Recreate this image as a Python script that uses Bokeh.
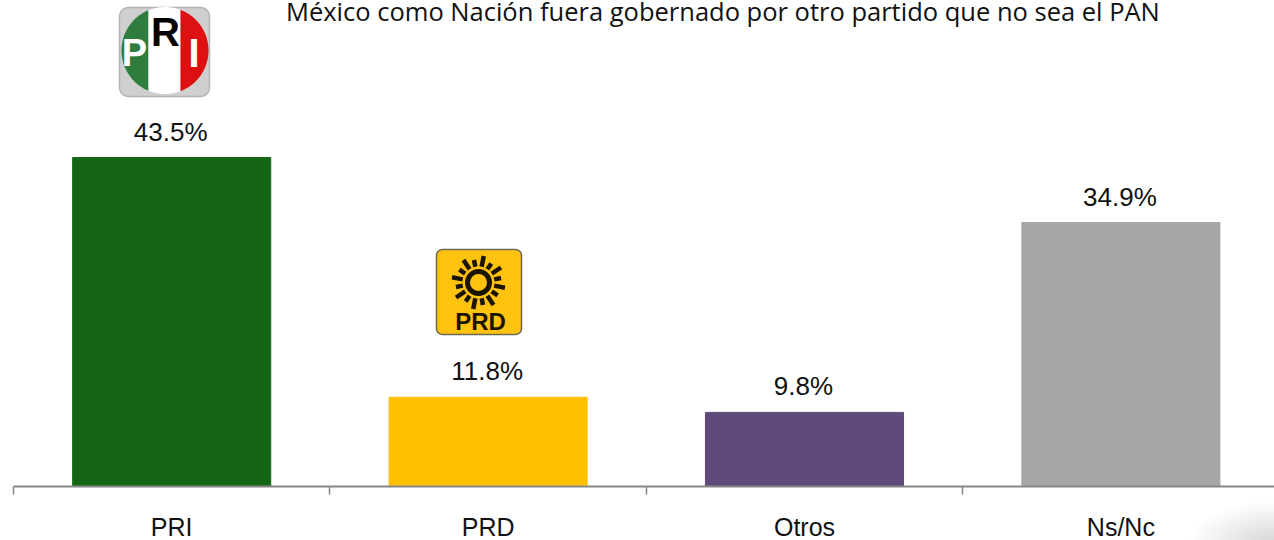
import numpy as np
from bokeh.embed import file_html
from bokeh.resources import INLINE
from bokeh.plotting import figure
from bokeh.models import ColumnDataSource, FixedTicker, Range1d
from bokeh.core.properties import value

categories = ["PRI", "PRD", "Otros", "Ns/Nc"]
values = [43.5, 11.8, 9.8, 34.9]
value_labels = ["43.5%", "11.8%", "9.8%", "34.9%"]
bar_colors = ["#146614", "#FFC000", "#604A7B", "#A6A6A6"]
title_text = "México como Nación fuera gobernado por otro partido que no sea el PAN"

W, H = 1274, 540
AXIS_Y = 486
X0 = 13
PX_PER_CAT = 316.4
PX_PER_VAL = 7.563

def X(px):
    return (np.asarray(px, dtype=float) - X0) / PX_PER_CAT

def Y(py):
    return (AXIS_Y - np.asarray(py, dtype=float)) / PX_PER_VAL

p = figure(width=W, height=H, frame_width=W, frame_height=AXIS_Y,
           output_backend="svg", toolbar_location=None,
           x_range=Range1d(float(X(0)), float(X(W))),
           y_range=Range1d(0, float(Y(0))),
           min_border_left=0, min_border_right=0, min_border_top=0,
           min_border_bottom=0, outline_line_color=None,
           background_fill_color="white", border_fill_color=None,
           styles={"position": "absolute", "left": "0px", "top": "0px",
                   "background": "radial-gradient(ellipse 85px 42px at 100% 100%, #d6d6d6, #ffffff)"})
p.grid.visible = False
p.yaxis.visible = False

centers = [i + 0.5 for i in range(len(categories))]
src = ColumnDataSource(dict(x=centers, top=values, color=bar_colors, label=value_labels))

p.vbar(x="x", top="top", width=0.626, bottom=0, color="color", source=src)
p.text(x="x", y="top", text="label", source=src, x_offset=-1, y_offset=-26, text_align="center",
       text_baseline="middle", text_font=value("Liberation Sans"),
       text_font_size="26px", text_color="#111111")

ax = p.xaxis[0]
ax.ticker = FixedTicker(ticks=centers, minor_ticks=[0, 1, 2, 3, 4])
ax.major_label_overrides = {c: n for c, n in zip(centers, categories)}
ax.bounds = (0, 4)
ax.axis_line_color = "#868686"
ax.axis_line_width = 2
ax.major_tick_line_color = None
ax.major_tick_in = 0
ax.major_tick_out = 0
ax.minor_tick_line_color = "#868686"
ax.minor_tick_line_width = 1.5
ax.minor_tick_in = 0
ax.minor_tick_out = 8
ax.major_label_standoff = 18
ax.major_label_text_font = "Liberation Sans"
ax.major_label_text_font_size = "25px"
ax.major_label_text_color = "#111111"

# title
p.text(x=[float(X(285.5))], y=[float(Y(10))], text=[title_text], text_align="left",
       text_baseline="middle", text_font=value("Open Sans"), text_font_size="25.5px",
       text_color="#111111")


def rrect(x0, y0, x1, y1, r, color, line):
    t = np.linspace(0, np.pi / 2, 8)
    xs = np.concatenate([x1 - r + r * np.sin(t), x1 - r + r * np.cos(t),
                         x0 + r - r * np.sin(t), x0 + r - r * np.cos(t)])
    ys = np.concatenate([y0 + r - r * np.cos(t), y1 - r + r * np.sin(t),
                         y1 - r + r * np.cos(t), y0 + r - r * np.sin(t)])
    p.patch(X(xs), Y(ys), fill_color=color, line_color=line, line_width=1.5)


# PRI logo
rrect(119, 7, 209, 96, 9, "#CFCFCF", "#B5B5B5")
cx, cy, R = 164.5, 50, 43.5


def band(xa, xb, color):
    t = np.linspace(0, 2 * np.pi, 180)
    raw = cx + R * np.cos(t)
    xs = np.clip(raw, xa, xb)
    ys = cy + np.sign(np.sin(t)) * np.sqrt(np.maximum(R**2 - (xs - cx)**2, 0))
    p.patch(X(xs), Y(ys), fill_color=color, line_color=None)


band(cx - R, 148, "#2E7D3E")
band(148, 180, "#FFFFFF")
band(180, cx + R, "#DD1111")
for t_, xx, yy, col, sz in (("P", 134, 52, "white", "38px"), ("R", 165, 31, "black", "40px"), ("I", 193.5, 52.5, "white", "40px")):
    p.text(x=[float(X(xx))], y=[float(Y(yy))], text=[t_], text_align="center", text_baseline="middle",
           text_font=value("Liberation Sans"), text_font_style="bold", text_font_size=sz, text_color=col)

# PRD logo
rrect(436, 249, 521, 334, 6, "#FFC20E", "#6B6B50")
sx, sy = 478, 282
p.scatter(x=[float(X(sx))], y=[float(Y(sy))], size=22, marker="circle", fill_color=None,
          line_color="#1A1400", line_width=5)
ang = np.arange(16) * 2 * np.pi / 16 + np.pi / 16
inner = np.full(16, 16.0)
outer = np.where(np.arange(16) % 2 == 0, 27.0, 23.0)
p.segment(X(sx + inner * np.cos(ang)), Y(sy + inner * np.sin(ang)),
          X(sx + outer * np.cos(ang)), Y(sy + outer * np.sin(ang)),
          line_color="#1A1400", line_width=4.5)
p.text(x=[float(X(480))], y=[float(Y(320.5))], text=["PRD"], text_align="center", text_baseline="middle",
       text_font=value("Liberation Sans"), text_font_style="bold", text_font_size="24px", text_color="#1A1400")

open("out.html", "w").write(file_html(p, INLINE))
